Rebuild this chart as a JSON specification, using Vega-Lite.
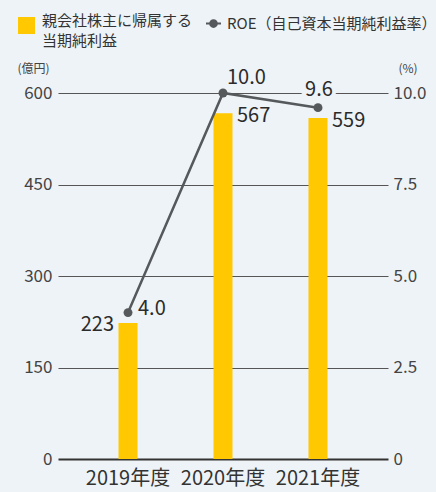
{
  "$schema": "https://vega.github.io/schema/vega-lite/v6.json",
  "width": 330,
  "height": 366,
  "autosize": {"type": "none"},
  "padding": {"left": 58, "top": 93, "right": 48, "bottom": 33},
  "background": "#eef3f7",
  "config": {"font": "Noto Sans CJK JP", "view": {"stroke": null}},
  "data": {
    "values": [
      {"year": "2019年度", "profit": 223, "roe": 4.0},
      {"year": "2020年度", "profit": 567, "roe": 10.0},
      {"year": "2021年度", "profit": 559, "roe": 9.6}
    ]
  },
  "encoding": {
    "x": {
      "field": "year",
      "type": "nominal",
      "sort": null,
      "scale": {"paddingInner": 0, "paddingOuter": 0.237},
      "axis": {
        "title": null,
        "domain": false,
        "ticks": false,
        "labelAngle": 0,
        "labelFontSize": 20,
        "labelColor": "#333333",
        "labelPadding": 9
      }
    }
  },
  "layer": [
    {
      "encoding": {
        "y": {
          "field": "profit",
          "type": "quantitative",
          "scale": {"domain": [0, 600]},
          "axis": {
            "orient": "left",
            "values": [0, 150, 300, 450, 600],
            "grid": true,
            "gridColor": {"condition": {"test": "datum.value === 0", "value": "#333333"}, "value": "#555555"},
            "gridWidth": {"condition": {"test": "datum.value === 0", "value": 2}, "value": 1},
            "domain": false,
            "ticks": false,
            "labelFontSize": 17,
            "labelColor": "#444444",
            "labelPadding": 6,
            "title": "(億円)",
            "titleAngle": 0,
            "titleX": -41,
            "titleY": -25,
            "titleAlign": "left",
            "titleBaseline": "middle",
            "titleFontSize": 12,
            "titleFontWeight": "normal",
            "titleColor": "#444444"
          }
        }
      },
      "layer": [
        {
          "mark": {"type": "bar", "width": 19},
          "encoding": {
            "color": {
              "datum": "親会社株主に帰属する当期純利益",
              "scale": {"range": ["#ffc800"]},
              "legend": {
                "orient": "none",
                "legendX": -40,
                "legendY": -76,
                "title": null,
                "symbolType": "square",
                "symbolSize": 289,
                "symbolStrokeWidth": 0,
                "labelFontSize": 15,
                "labelColor": "#333333",
                "labelLimit": 300,
                "labelOffset": 7,
                "labelBaseline": "alphabetic",
                "labelExpr": "['親会社株主に帰属する', '当期純利益']",
                "encode": {"labels": {"update": {"lineHeight": {"value": 20}}}}
              }
            }
          }
        },
        {
          "transform": [{"filter": "datum.year === '2019年度'"}],
          "mark": {"type": "text", "align": "right", "baseline": "middle", "dx": -14, "dy": 2, "fontSize": 20, "color": "#2b2b2b"},
          "encoding": {"text": {"field": "profit", "type": "quantitative"}}
        },
        {
          "transform": [{"filter": "datum.year !== '2019年度'"}],
          "mark": {"type": "text", "align": "left", "baseline": "middle", "dx": 14, "dy": 3, "fontSize": 20, "color": "#2b2b2b"},
          "encoding": {"text": {"field": "profit", "type": "quantitative"}}
        }
      ]
    },
    {
      "encoding": {
        "y": {
          "field": "roe",
          "type": "quantitative",
          "scale": {"domain": [0, 10]},
          "axis": {
            "orient": "right",
            "values": [0, 2.5, 5, 7.5, 10],
            "labelExpr": "datum.value === 0 ? '0' : format(datum.value, '.1f')",
            "grid": false,
            "domain": false,
            "ticks": false,
            "labelFontSize": 17,
            "labelColor": "#444444",
            "labelPadding": 5,
            "title": "(%)",
            "titleAngle": 0,
            "titleX": 10,
            "titleY": -25,
            "titleAlign": "left",
            "titleBaseline": "middle",
            "titleFontSize": 12,
            "titleFontWeight": "normal",
            "titleColor": "#444444"
          }
        }
      },
      "layer": [
        {
          "transform": [{"filter": "datum.year === '2021年度'"}],
          "mark": {"type": "text", "align": "center", "baseline": "middle", "dx": 1, "dy": -18, "fontSize": 20, "color": "#eef3f7", "stroke": "#eef3f7", "strokeWidth": 8},
          "encoding": {"text": {"field": "roe", "type": "quantitative", "format": ".1f"}}
        },
        {
          "mark": {"type": "line", "strokeWidth": 2.5},
          "encoding": {
            "stroke": {
              "datum": "ROE（自己資本当期純利益率）",
              "scale": {"range": ["#55595c"]},
              "legend": {
                "orient": "none",
                "legendX": 147,
                "legendY": -78,
                "title": null,
                "symbolType": "M-1,0H1M-0.45,0A0.45,0.45 0 1,0 0.45,0A0.45,0.45 0 1,0 -0.45,0Z",
                "symbolSize": 225,
                "symbolStrokeWidth": 2,
                "symbolFillColor": "#55595c",
                "symbolStrokeColor": "#55595c",
                "labelFontSize": 15,
                "labelColor": "#333333",
                "labelLimit": 300,
                "labelOffset": 5
              }
            }
          }
        },
        {
          "mark": {"type": "point", "filled": true, "size": 80, "color": "#55595c", "opacity": 1},
          "encoding": {}
        },
        {
          "transform": [{"filter": "datum.year === '2019年度'"}],
          "mark": {"type": "text", "align": "left", "baseline": "middle", "dx": 10, "dy": -4, "fontSize": 20, "color": "#2b2b2b"},
          "encoding": {"text": {"field": "roe", "type": "quantitative", "format": ".1f"}}
        },
        {
          "transform": [{"filter": "datum.year === '2020年度'"}],
          "mark": {"type": "text", "align": "left", "baseline": "middle", "dx": 4, "dy": -15, "fontSize": 20, "color": "#2b2b2b"},
          "encoding": {"text": {"field": "roe", "type": "quantitative", "format": ".1f"}}
        },
        {
          "transform": [{"filter": "datum.year === '2021年度'"}],
          "mark": {"type": "text", "align": "center", "baseline": "middle", "dx": 1, "dy": -18, "fontSize": 20, "color": "#2b2b2b"},
          "encoding": {"text": {"field": "roe", "type": "quantitative", "format": ".1f"}}
        }
      ]
    }
  ],
  "resolve": {"scale": {"y": "independent"}}
}
